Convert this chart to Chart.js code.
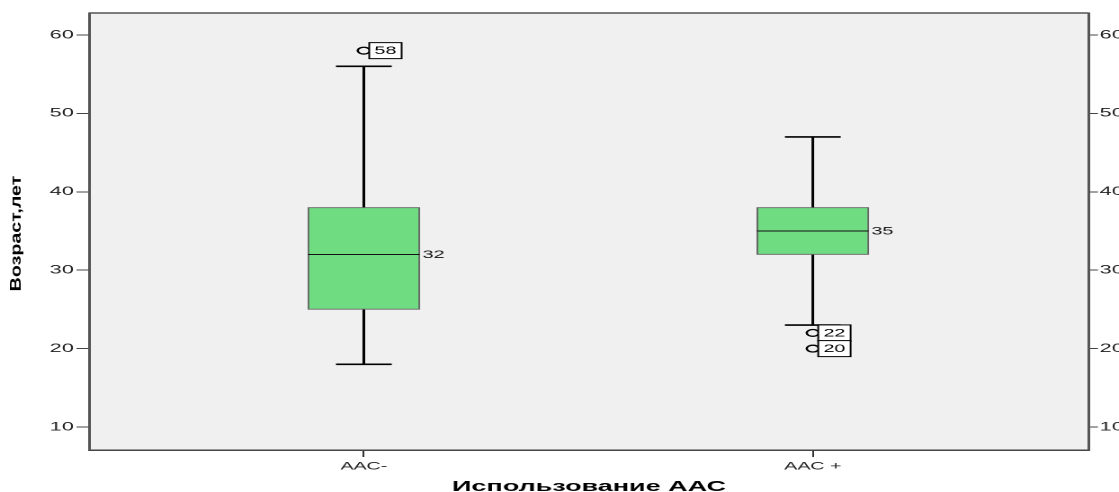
<!DOCTYPE html>
<html>
<head>
<meta charset="utf-8">
<script src="https://cdn.jsdelivr.net/npm/chart.js@4.4.1/dist/chart.umd.min.js"></script>
<style>
  html, body { margin: 0; padding: 0; background: #fff; overflow: hidden; }
  /* the original picture is stretched horizontally, so the chart is drawn narrow and widened */
  #wrap { width: 622px; height: 492px; transform: scaleX(1.799); transform-origin: 0 0; }
</style>
</head>
<body>
<div id="wrap"><canvas id="grafico" width="622" height="492"></canvas></div>
<script>
// dados
const categories = ['ААС-', 'ААС +'];
const q1 = [25, 32];
const medians = [32, 35];
const q3 = [38, 38];
const whiskerLow = [18, 23];
const whiskerHigh = [56, 47];
const outlierValues = [[58], [22, 20]];
const outlierLabels = [['58'], ['22', '20']];
const yTicks = [10, 20, 30, 40, 50, 60];

const FONT = '"Liberation Sans", Arial, sans-serif';
const STRETCH = 1.799;

const boxes = categories.map((c, i) => ({ x: i + 1, y: [q1[i], q3[i]] }));
const outliers = [];
outlierValues.forEach((vals, i) => {
    vals.forEach(v => outliers.push({ x: i + 1, y: v }));
});

const boxPlugin = {
    id: 'boxPlugin',
    beforeDraw(chart) {
        const { ctx, chartArea: a } = chart;
        ctx.save();
        ctx.fillStyle = '#f0f0f0';
        ctx.fillRect(a.left, a.top, a.right - a.left, a.bottom - a.top);
        ctx.restore();
    },
    beforeDatasetsDraw(chart) {
        const { ctx } = chart;
        const xs = chart.scales.x, ys = chart.scales.y;
        const bars = chart.getDatasetMeta(0).data;
        ctx.save();
        ctx.strokeStyle = '#000';
        categories.forEach((c, i) => {
            const x = xs.getPixelForValue(i + 1);
            const capHalf = bars[i].width / 4;
            // bigodes
            ctx.lineWidth = 1.5;
            ctx.beginPath();
            ctx.moveTo(x, ys.getPixelForValue(q3[i]));
            ctx.lineTo(x, ys.getPixelForValue(whiskerHigh[i]));
            ctx.moveTo(x, ys.getPixelForValue(q1[i]));
            ctx.lineTo(x, ys.getPixelForValue(whiskerLow[i]));
            ctx.stroke();
            // tampas
            ctx.lineWidth = 1.6;
            ctx.beginPath();
            [whiskerHigh[i], whiskerLow[i]].forEach(v => {
                const y = ys.getPixelForValue(v);
                ctx.moveTo(x - capHalf, y);
                ctx.lineTo(x + capHalf, y);
            });
            ctx.stroke();
        });
        ctx.restore();
    },
    afterDatasetsDraw(chart) {
        const { ctx, chartArea: a } = chart;
        const xs = chart.scales.x, ys = chart.scales.y;
        const bars = chart.getDatasetMeta(0).data;
        ctx.save();
        categories.forEach((c, i) => {
            const x = xs.getPixelForValue(i + 1);
            const half = bars[i].width / 2;
            const ym = ys.getPixelForValue(medians[i]);
            // mediana
            ctx.strokeStyle = '#111';
            ctx.lineWidth = 1;
            ctx.beginPath();
            ctx.moveTo(x - half, ym);
            ctx.lineTo(x + half, ym);
            ctx.stroke();
            ctx.fillStyle = '#111';
            ctx.font = '11px ' + FONT;
            ctx.textAlign = 'left';
            ctx.textBaseline = 'middle';
            ctx.fillText(String(medians[i]), x + half + 1.6, ym + 0.5);

            // etiquetas dos outliers
            outlierValues[i].forEach((v, k) => {
                const yo = ys.getPixelForValue(v);
                const bx = x + 3, bw = 18, bh = 16;
                ctx.fillStyle = '#fff';
                ctx.fillRect(bx, yo - bh / 2, bw, bh);
                ctx.strokeStyle = '#000';
                ctx.lineWidth = 1;
                ctx.strokeRect(bx, yo - bh / 2, bw, bh);
                ctx.fillStyle = '#000';
                ctx.textAlign = 'center';
                ctx.fillText(outlierLabels[i][k], bx + bw / 2, yo + 0.5);
            });
        });
        // borda superior da área do gráfico
        ctx.strokeStyle = '#555';
        ctx.lineWidth = 1.5;
        ctx.beginPath();
        ctx.moveTo(a.left, a.top);
        ctx.lineTo(a.right, a.top);
        ctx.stroke();
        ctx.restore();
    },
    afterDraw(chart) {
        const { ctx, chartArea: a } = chart;
        ctx.save();
        ctx.fillStyle = '#000';
        // título do eixo x
        ctx.font = 'bold 15px ' + FONT;
        ctx.textAlign = 'center';
        ctx.textBaseline = 'alphabetic';
        ctx.fillText('Использование ААС', (a.left + a.right) / 2, 491);
        // título do eixo y (fonte estreita e alta)
        ctx.translate(9.2, (a.top + a.bottom) / 2 + 2);
        ctx.rotate(-Math.PI / 2);
        ctx.scale(1.31, 1 / STRETCH);
        ctx.textBaseline = 'middle';
        ctx.fillText('Возраст,лет', 0, 0);
        ctx.restore();
    }
};

const yAxisBase = {
    type: 'linear',
    min: 7.07,
    max: 62.8,
    afterBuildTicks: scale => { scale.ticks = yTicks.map(v => ({ value: v })); },
    grid: { drawOnChartArea: false, color: '#444', lineWidth: 1 },
    border: { display: true, color: '#555', width: 1.5 }
};

new Chart(document.getElementById('grafico'), {
    type: 'bar',
    data: {
        datasets: [{
            label: 'caixa',
            data: boxes,
            backgroundColor: '#70dc82',
            borderColor: '#666',
            borderWidth: 1,
            borderSkipped: false,
            barThickness: 62
        }, {
            type: 'scatter',
            label: 'outliers',
            data: outliers,
            pointStyle: 'circle',
            pointRadius: 3.4,
            pointBorderWidth: 1.3,
            pointBorderColor: '#000',
            pointBackgroundColor: 'rgba(0,0,0,0)'
        }]
    },
    options: {
        responsive: false,
        animation: false,
        devicePixelRatio: 2,
        layout: { padding: { top: 13, left: 0, right: 0, bottom: 0 } },
        plugins: { legend: { display: false }, tooltip: { enabled: false } },
        scales: {
            x: {
                type: 'linear',
                min: 0.388,
                max: 2.615,
                offset: false,
                afterBuildTicks: scale => { scale.ticks = categories.map((c, i) => ({ value: i + 1 })); },
                afterFit: scale => { scale.height = 42; },
                ticks: {
                    autoSkip: false,
                    maxRotation: 0,
                    padding: 3,
                    color: '#222',
                    font: { family: FONT, size: 11 },
                    callback: v => categories[v - 1]
                },
                grid: { drawOnChartArea: false, offset: false, color: '#333', tickLength: 7 },
                border: { display: true, color: '#444', width: 1.5 }
            },
            y: Object.assign({}, yAxisBase, {
                position: 'left',
                afterFit: scale => { scale.width = 49.5; },
                ticks: { padding: 1.5, color: '#222', font: { family: FONT, size: 12 } },
                grid: Object.assign({}, yAxisBase.grid, { tickLength: 7 })
            }),
            y2: Object.assign({}, yAxisBase, {
                position: 'right',
                afterFit: scale => { scale.width = 16.7; },
                ticks: { padding: 1, color: '#222', font: { family: FONT, size: 12 } },
                grid: Object.assign({}, yAxisBase.grid, { tickLength: 5 })
            })
        }
    },
    plugins: [boxPlugin]
});
</script>
</body>
</html>
